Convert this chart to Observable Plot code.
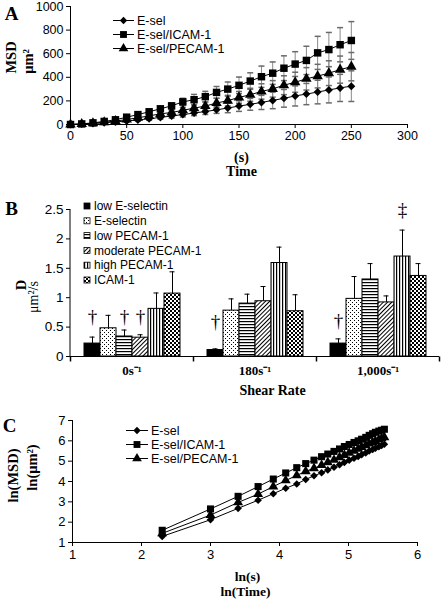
<!DOCTYPE html>
<html><head><meta charset="utf-8">
<script src="https://cdn.jsdelivr.net/npm/d3@7"></script>
<script src="https://cdn.jsdelivr.net/npm/@observablehq/plot@0.6"></script>
<style>
body{margin:0;background:#fff;}
#wrap{position:relative;width:442px;height:603px;overflow:hidden;background:#fff;}
#wrap > svg, #wrap > figure{position:absolute;left:0;margin:0;}
</style></head><body>
<svg width="0" height="0" style="position:absolute">
<defs>
<pattern id="pDots" width="4" height="4" patternUnits="userSpaceOnUse"><rect width="4" height="4" fill="#fff"/><rect x="0" y="0" width="1" height="1" fill="#000"/><rect x="2" y="2" width="1" height="1" fill="#000"/></pattern>
<pattern id="pH" width="4" height="3" patternUnits="userSpaceOnUse"><rect width="4" height="3" fill="#fff"/><rect y="0" width="4" height="1.2" fill="#000"/></pattern>
<pattern id="pDiag" width="3" height="3" patternUnits="userSpaceOnUse" patternTransform="rotate(45)"><rect width="3" height="3" fill="#fff"/><rect width="1" height="3" fill="#000"/></pattern>
<pattern id="pV" width="3" height="4" patternUnits="userSpaceOnUse"><rect width="3" height="4" fill="#fff"/><rect width="1.2" height="4" fill="#000"/></pattern>
<pattern id="pChk" width="4" height="4" patternUnits="userSpaceOnUse"><rect width="4" height="4" fill="#fff"/><rect width="2" height="2" fill="#000"/><rect x="2" y="2" width="2" height="2" fill="#000"/></pattern>
</defs></svg>
<div id="wrap"></div>
<script>
// ---------- Panel A data ----------
const timeA = [0,10,20,30,40,50,60,70,80,90,100,110,120,130,140,150,160,170,180,190,200,210,220,230,240,250];
const msdEsel  = [0,4,8,15,22,30,39,48,60,72,84,97,110,124,140,156,171,187,204,222,242,258,275,293,310,325];
const errEsel  = [0,2,3,5,6,8,10,12,15,18,20,22,25,30,40,45,50,60,70,75,85,90,100,110,115,130];
const msdIcam  = [0,5,14,26,40,62,84,108,133,158,192,210,236,272,300,332,368,405,435,477,512,543,607,635,676,712];
const errIcam  = [0,2,4,6,8,10,12,15,20,25,30,45,45,50,60,70,70,90,95,105,105,120,140,145,145,160];
const msdPecam = [0,4,10,19,29,42,57,73,90,102,120,139,156,182,202,230,252,280,302,333,358,387,410,435,465,490];
const errPecam = [0,2,3,5,7,9,11,14,18,20,25,30,35,40,45,50,55,65,70,80,85,95,100,105,115,120];
const seriesNames = ["E-sel","E-sel/ICAM-1","E-sel/PECAM-1"];
const xTicksA = [0,50,100,150,200,250,300];
const yTicksA = [0,200,400,600,800,1000];

// ---------- Panel B data ----------
const shear = ["0s\u207B\u00B9","180s\u207B\u00B9","1,000s\u207B\u00B9"];
const surfaces = ["low E-selectin","E-selectin","low PECAM-1","moderate PECAM-1","high PECAM-1","ICAM-1"];
const dLowEsel   = [0.22,0.11,0.22]; const eLowEsel   = [0.11,0.02,0.08];
const dEsel      = [0.48,0.78,0.98]; const eEsel      = [0.22,0.20,0.38];
const dLowPecam  = [0.34,0.90,1.31]; const eLowPecam  = [0.11,0.16,0.27];
const dModPecam  = [0.32,0.94,0.92]; const eModPecam  = [0.05,0.25,0.11];
const dHighPecam = [0.81,1.59,1.70]; const eHighPecam = [0.27,0.27,0.45];
const dIcam      = [1.07,0.77,1.37]; const eIcam      = [0.37,0.28,0.21];
const patterns = ["#000","url(#pDots)","url(#pH)","url(#pDiag)","url(#pV)","url(#pChk)"];
const yTicksB = [0,0.5,1,1.5,2,2.5];
// significance marks: shear index, surface index, symbol, y level
const sigShear = [0,0,0,1,2,2];
const sigSurf  = [0,2,3,0,0,4];
const sigSym   = ["\u2020","\u2020","\u2020","\u2020","\u2020","\u2021"];
const sigY     = [0.67,0.67,0.67,0.58,0.61,2.49];

// ---------- Panel C data ----------
const lnT     = [2.30,3.00,3.40,3.69,3.91,4.09,4.25,4.38,4.50,4.61,4.70,4.79,4.87,4.94,5.01,5.08,5.14,5.19,5.25,5.30,5.35,5.39,5.44,5.48,5.52];
const lnEsel  = [1.30,2.12,2.68,3.08,3.40,3.67,3.88,4.10,4.28,4.43,4.57,4.70,4.82,4.94,5.05,5.14,5.23,5.32,5.41,5.50,5.57,5.64,5.71,5.77,5.83];
const lnIcam  = [1.60,2.65,3.27,3.75,4.12,4.42,4.68,4.88,5.05,5.22,5.35,5.48,5.60,5.72,5.82,5.92,6.00,6.08,6.17,6.27,6.35,6.42,6.48,6.52,6.57];
const lnPecam = [1.45,2.35,2.97,3.38,3.75,4.05,4.30,4.50,4.65,4.80,4.94,5.06,5.19,5.30,5.41,5.51,5.60,5.69,5.78,5.86,5.93,5.99,6.06,6.12,6.17];
const xTicksC = [1,2,3,4,5,6];
const yTicksC = [1,2,3,4,5,6,7];

// ---------- shared ----------
const SANS = "'Liberation Sans', Arial, sans-serif";
const SERIF = "'Liberation Serif', 'Times New Roman', serif";
const plain = d => String(d);
const symbols = ["diamond2","square","triangle"];
const symR = [3.6,4.2,3.9];
const capSym = {draw(ctx){ctx.moveTo(-3,0);ctx.lineTo(3,0);}};
const tickDown = {draw(ctx){ctx.moveTo(0,0);ctx.lineTo(0,5);}};
const wrap = document.getElementById("wrap");
function place(el, top){ el.style.top = top + "px"; wrap.appendChild(el); return el; }
function lbl(text, opts){ return Plot.text([text], {text: d=>d, textAnchor:"middle", lineAnchor:"middle", fontFamily:SERIF, fontWeight:"bold", fill:"#000", ...opts}); }

// ---------- Panel A ----------
const rowsA = [];
[[msdEsel,errEsel],[msdIcam,errIcam],[msdPecam,errPecam]].forEach(([v,e],k)=>{
  timeA.forEach((t,i)=>rowsA.push({s:seriesNames[k], k, t, v:v[i], e:e[i]}));
});
const plotA = Plot.plot({
  width:442, height:180, marginLeft:70, marginRight:35, marginTop:6, marginBottom:56,
  style:{fontFamily:SANS, fontSize:"12px", color:"#000", background:"transparent", overflow:"visible"},
  x:{domain:[0,300]}, y:{domain:[0,1000]},
  marks:[
    Plot.ruleX(rowsA.filter(d=>d.e>0), {x:"t", y1:d=>d.v-d.e, y2:d=>d.v+d.e, stroke:"#8a8a8a", strokeWidth:1}),
    Plot.dot(rowsA.filter(d=>d.e>0), {x:"t", y:d=>d.v+d.e, symbol:capSym, stroke:"#6a6a6a", fill:"none", r:1}),
    Plot.dot(rowsA.filter(d=>d.e>0), {x:"t", y:d=>d.v-d.e, symbol:capSym, stroke:"#6a6a6a", fill:"none", r:1}),
    Plot.ruleX([0], {stroke:"#000"}),
    Plot.ruleY([0], {stroke:"#000"}),
    Plot.axisX({ticks:xTicksA, tickFormat:plain, tickSize:4, tickPadding:3, label:null, fontSize:12.5}),
    Plot.axisY({ticks:yTicksA, tickFormat:plain, tickSize:4, tickPadding:3, label:null, fontSize:12.5}),
    Plot.line(rowsA, {x:"t", y:"v", z:"s", stroke:"#000", strokeWidth:1}),
    ...[0,1,2].map(k=>Plot.dot(rowsA.filter(d=>d.k===k), {x:"t", y:"v", symbol:symbols[k], r:symR[k], fill:"#000", stroke:"none"})),
    lbl("A", {frameAnchor:"top-left", dx:-59, dy:7, fontSize:19}),
    lbl("MSD", {frameAnchor:"left", rotate:-90, dx:-59, dy:-8, fontSize:14.5}),
    lbl("\u03BCm\u00B2", {frameAnchor:"left", rotate:-90, dx:-42, dy:-4, fontSize:14.5}),
    lbl("(s)", {frameAnchor:"bottom", dx:2.5, dy:33, fontSize:14}),
    lbl("Time", {frameAnchor:"bottom", dx:2.5, dy:47, fontSize:14})
  ]
});
place(plotA, 0);

// ---------- Panel B ----------
const dArr = [dLowEsel,dEsel,dLowPecam,dModPecam,dHighPecam,dIcam];
const eArr = [eLowEsel,eEsel,eLowPecam,eModPecam,eHighPecam,eIcam];
const rowsB = [];
shear.forEach((sh,i)=>surfaces.forEach((sf,j)=>rowsB.push({sh, sf, j, v:dArr[j][i], e:eArr[j][i], pat:patterns[j]})));
const sigRows = sigShear.map((si,n)=>({sh:shear[si], sf:surfaces[sigSurf[n]], sym:sigSym[n], y:sigY[n]}));
const plotB = Plot.plot({
  width:442, height:215, marginLeft:70, marginRight:3, marginTop:29, marginBottom:39,
  style:{fontFamily:SANS, fontSize:"13px", color:"#000", background:"transparent", overflow:"visible"},
  fx:{domain:shear, padding:0},
  x:{domain:surfaces, paddingInner:0, paddingOuter:0.69, axis:null},
  y:{domain:[0,2.5]},
  marks:[
    Plot.ruleY([0], {stroke:"#000"}),
    Plot.barY(rowsB, {fx:"sh", x:"sf", y:"v", fill:"pat", stroke:"#000", strokeWidth:1}),
    Plot.ruleX(rowsB, {fx:"sh", x:"sf", y1:"v", y2:d=>d.v+d.e, stroke:"#000", strokeWidth:1}),
    Plot.tickY(rowsB, {fx:"sh", x:"sf", y:d=>d.v+d.e, stroke:"#000", strokeWidth:1, insetLeft:5.5, insetRight:5.5}),
    Plot.text(sigRows, {fx:"sh", x:"sf", y:"y", text:"sym", fontFamily:SERIF, fontSize:19, fill:"#000"}),
    Plot.dot([0], {frameAnchor:"bottom-left", symbol:tickDown, stroke:"#000", fill:"none", r:1}),
    Plot.dot([shear[2]], {fx:d=>d, frameAnchor:"bottom-right", symbol:tickDown, stroke:"#000", fill:"none", r:1}),
    Plot.axisY({ticks:yTicksB, tickFormat:plain, tickSize:4, tickPadding:3, label:null, fontSize:13.5}),
    Plot.axisFx({anchor:"bottom", tickSize:0, tickPadding:9, label:null, fontFamily:SERIF, fontWeight:"bold", fontSize:13}),
    lbl("B", {fx:()=>shear[0], frameAnchor:"top-left", dx:-59, dy:-1, fontSize:19}),
    lbl("Shear Rate", {fx:()=>shear[1], frameAnchor:"bottom", dx:17.5, dy:34, fontSize:14})
  ]
});
place(plotB, 180);
// y-axis line for the grouped chart, using Plot's own y scale
(function(){
  const ys = plotB.scale("y");
  d3.select(plotB).append("line").attr("x1",70).attr("x2",70)
    .attr("y1",ys.apply(0)).attr("y2",ys.apply(2.5)).attr("stroke","#000");
})();

// ---------- Panel C ----------
const rowsC = [];
[lnEsel,lnIcam,lnPecam].forEach((v,k)=>lnT.forEach((x,i)=>rowsC.push({s:seriesNames[k], k, x, v:v[i]})));
const plotC = Plot.plot({
  width:442, height:208, marginLeft:72, marginRight:25, marginTop:25, marginBottom:61,
  style:{fontFamily:SANS, fontSize:"12px", color:"#000", background:"transparent", overflow:"visible"},
  x:{domain:[1,6]}, y:{domain:[1,7]},
  marks:[
    Plot.ruleX([1], {stroke:"#000"}),
    Plot.ruleY([1], {stroke:"#000"}),
    Plot.axisX({ticks:xTicksC, tickFormat:plain, tickSize:4, tickPadding:3, label:null, fontSize:13}),
    Plot.axisY({ticks:yTicksC, tickFormat:plain, tickSize:4, tickPadding:3, label:null, fontSize:13}),
    Plot.line(rowsC, {x:"x", y:"v", z:"s", stroke:"#000", strokeWidth:1}),
    ...[0,1,2].map(k=>Plot.dot(rowsC.filter(d=>d.k===k), {x:"x", y:"v", symbol:symbols[k], r:symR[k]*0.95, fill:"#000", stroke:"none"})),
    lbl("C", {frameAnchor:"top-left", dx:-63, dy:5, fontSize:19}),
    lbl("ln(MSD)", {frameAnchor:"left", rotate:-90, dx:-59, dy:-6, fontSize:14.5}),
    lbl("ln(\u03BCm\u00B2)", {frameAnchor:"left", rotate:-90, dx:-40, dy:-14, fontSize:14.5}),
    lbl("ln(s)", {frameAnchor:"bottom", dx:2.5, dy:34, fontSize:13.5}),
    lbl("ln(Time)", {frameAnchor:"bottom", dx:0.5, dy:49, fontSize:13.5})
  ]
});
place(plotC, 395);

// ---------- Legends and B axis title (overlay) ----------
const leg = d3.select(wrap).append("svg").attr("width",442).attr("height",603)
  .style("position","absolute").style("left","0").style("top","0").style("pointer-events","none");
const plotSym = {diamond2: d3.symbolDiamond2, square: d3.symbolSquare, triangle: d3.symbolTriangle};
function lineLegend(x0, x1, tx, ys, fs){
  seriesNames.forEach((name,k)=>{
    const y = ys[k];
    leg.append("line").attr("x1",x0).attr("x2",x1).attr("y1",y).attr("y2",y).attr("stroke","#000");
    leg.append("path").attr("transform",`translate(${(x0+x1)/2},${y})`)
      .attr("d", d3.symbol(plotSym[symbols[k]], Math.PI*symR[k]*symR[k]*0.85)()).attr("fill","#000");
    leg.append("text").attr("x",tx).attr("y",y).attr("dy","0.35em").attr("font-family",SANS)
      .attr("font-size",fs).text(name);
  });
}
lineLegend(113, 134, 137, [20.5,34.5,48.5], 12.5);
lineLegend(126, 148, 151, [430.5,444.5,458.5], 12.5);
surfaces.forEach((name,j)=>{
  const y = 206 + j*14.8;
  leg.append("rect").attr("x",84).attr("y",y-3).attr("width",6).attr("height",6)
    .attr("fill",patterns[j]).attr("stroke","#000").attr("stroke-width",0.8);
  leg.append("text").attr("x",94).attr("y",y).attr("dy","0.35em").attr("font-family",SANS)
    .attr("font-size",12).text(name);
});
// rotated y-axis title of panel B
leg.append("text").attr("transform","translate(21,285) rotate(-90)").attr("text-anchor","middle")
  .attr("dy","0.35em").attr("font-family",SERIF).attr("font-weight","bold").attr("font-size",14.5).text("D");
leg.append("text").attr("transform","translate(33,297) rotate(-90)").attr("text-anchor","middle")
  .attr("dy","0.35em").attr("font-family",SERIF).attr("font-size",14).text("\u03BCm\u00B2/s");
</script>
</body></html>
